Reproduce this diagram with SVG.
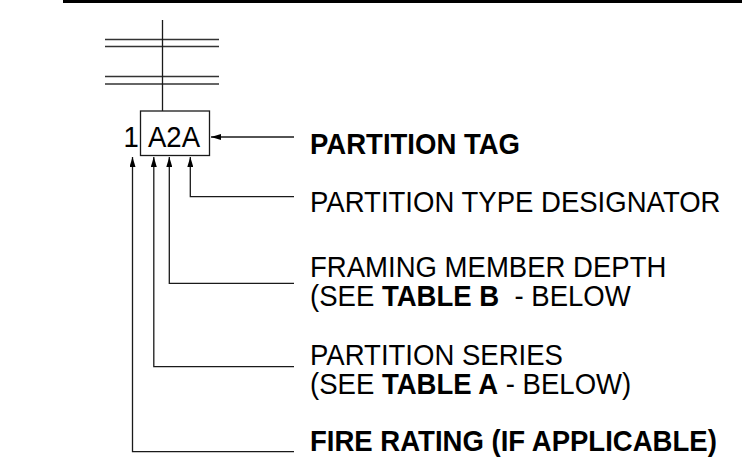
<svg xmlns="http://www.w3.org/2000/svg" width="742" height="470" viewBox="0 0 742 470">
  <style>
    .ln { fill: none; stroke: #1a1a1a; stroke-width: 1.3; }
    .dbl { fill: none; stroke: #333; stroke-width: 1.5; }
    .t { font-family: "Liberation Sans", Arial, sans-serif; font-size: 29px; fill: #000; }
    .b { font-weight: bold; }
  </style>
  <defs>
    <marker id="ah" markerUnits="userSpaceOnUse" viewBox="0 0 10 6" refX="10" refY="3" markerWidth="10" markerHeight="6" orient="auto">
      <path d="M0,0 L10,3 L0,6 Z" fill="#000"/>
    </marker>
  </defs>
  <rect x="63" y="0" width="679" height="3" fill="#000"/>
  <g id="wall">
    <line class="dbl" x1="105" y1="39.5" x2="219" y2="39.5"/>
    <line class="dbl" x1="105" y1="46.5" x2="219" y2="46.5"/>
    <line class="dbl" x1="105" y1="76.5" x2="219" y2="76.5"/>
    <line class="dbl" x1="105" y1="84" x2="219" y2="84"/>
    <line class="ln" x1="162.5" y1="20" x2="162.5" y2="111"/>
  </g>
  <g id="tag">
    <rect x="140.5" y="111" width="69" height="44.5" fill="#fff" stroke="#1a1a1a" stroke-width="1.3"/>
    <text class="t" transform="translate(123.5,146.5) scale(0.95,1)">1</text>
    <text class="t" transform="translate(148,146.5) scale(0.95,1)">A2A</text>
  </g>
  <g id="connectors">
    <path class="ln" d="M294,137 L211,137" marker-end="url(#ah)"/>
    <path class="ln" d="M294,196.7 L190.3,196.7 L190.3,157" marker-end="url(#ah)"/>
    <path class="ln" d="M294,283.3 L169.3,283.3 L169.3,157" marker-end="url(#ah)"/>
    <path class="ln" d="M294,366.7 L153.8,366.7 L153.8,157" marker-end="url(#ah)"/>
    <path class="ln" d="M294,451.7 L132.5,451.7 L132.5,157" marker-end="url(#ah)"/>
  </g>
  <g id="label-partition-tag">
    <text class="t b" transform="translate(310,154.3) scale(0.95,1)">PARTITION TAG</text>
  </g>
  <g id="label-type-designator">
    <text class="t" transform="translate(310,212.3) scale(0.95,1)">PARTITION TYPE DESIGNATOR</text>
  </g>
  <g id="label-framing-depth">
    <text class="t" transform="translate(310,276.5) scale(0.95,1)">FRAMING MEMBER DEPTH</text>
    <text class="t" xml:space="preserve" transform="translate(310,306) scale(0.95,1)">(SEE <tspan class="b">TABLE B</tspan>  - BELOW</text>
  </g>
  <g id="label-partition-series">
    <text class="t" transform="translate(310,365) scale(0.95,1)">PARTITION SERIES</text>
    <text class="t" xml:space="preserve" transform="translate(310,394) scale(0.95,1)">(SEE <tspan class="b">TABLE A</tspan> - BELOW)</text>
  </g>
  <g id="label-fire-rating">
    <text class="t b" transform="translate(310,451) scale(0.95,1)">FIRE RATING (IF APPLICABLE)</text>
  </g>
</svg>
